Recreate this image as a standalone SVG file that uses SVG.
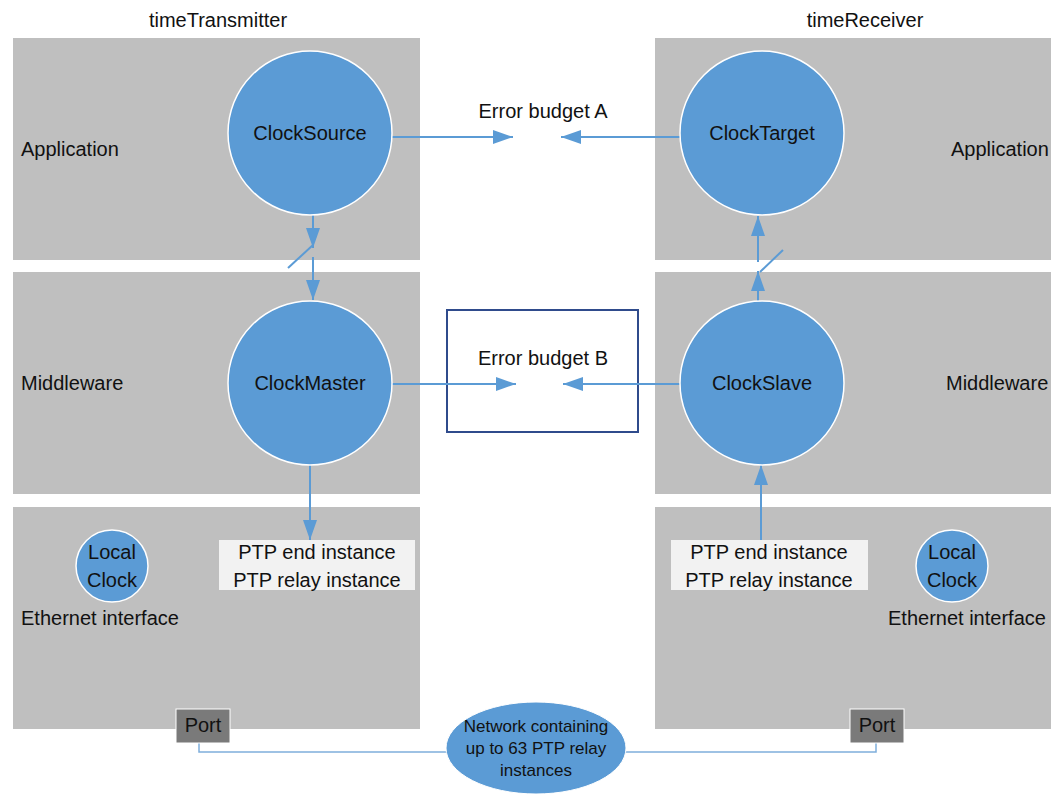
<svg xmlns="http://www.w3.org/2000/svg" width="1051" height="795" viewBox="0 0 1051 795">
  <defs>
    <style>
      .panel { fill: #BFBFBF; }
      .clock { fill: #5B9BD5; stroke: #FFFFFF; stroke-width: 1.5; }
      .lbl { font-family: "Liberation Sans", Arial, sans-serif; font-size: 20px; fill: #111111; }
      .mid { text-anchor: middle; }
      .small { font-size: 17px; }
      .wire { stroke: #5B9BD5; stroke-width: 2; fill: none; }
      .link { stroke: #7FAEDC; stroke-width: 1.5; fill: none; }
      .ptpbox { fill: #F2F2F2; }
      .port { fill: #7A7A7A; stroke: #FFFFFF; stroke-width: 1; }
    </style>
    <marker id="arrow" viewBox="0 0 20 14" refX="20" refY="7" markerWidth="20" markerHeight="14" markerUnits="userSpaceOnUse" orient="auto">
      <path d="M0,0 L20,7 L0,14 Z" fill="#5B9BD5"/>
    </marker>
  </defs>

  <rect width="1051" height="795" fill="#FFFFFF"/>

  <!-- titles -->
  <text class="lbl mid" x="218" y="27">timeTransmitter</text>
  <text class="lbl mid" x="865" y="27">timeReceiver</text>

  <!-- layer panels -->
  <g id="panels">
    <rect class="panel" x="13" y="38" width="407" height="222"/>
    <rect class="panel" x="13" y="272" width="407" height="222"/>
    <rect class="panel" x="13" y="507" width="407" height="222"/>
    <rect class="panel" x="655" y="38" width="396" height="222"/>
    <rect class="panel" x="655" y="272" width="396" height="222"/>
    <rect class="panel" x="655" y="507" width="396" height="222"/>
    <text class="lbl" x="21" y="156">Application</text>
    <text class="lbl" x="21" y="390">Middleware</text>
    <text class="lbl" x="21" y="625">Ethernet interface</text>
    <text class="lbl" x="951" y="156">Application</text>
    <text class="lbl" x="946" y="390">Middleware</text>
    <text class="lbl" x="888" y="625">Ethernet interface</text>
  </g>

  <!-- error budget B frame -->
  <g id="budgetB">
    <rect x="447" y="310" width="191" height="122" fill="none" stroke="#2F4B8C" stroke-width="2"/>
    <text class="lbl mid" x="543" y="365">Error budget B</text>
  </g>
  <g id="budgetA">
    <text class="lbl mid" x="543" y="118">Error budget A</text>
  </g>

  <!-- connectors -->
  <g id="connectors">
    <line class="wire" x1="313" y1="215" x2="313" y2="248" marker-end="url(#arrow)"/>
    <line class="wire" x1="288" y1="268" x2="313" y2="245"/>
    <line class="wire" x1="313" y1="257" x2="313" y2="300" marker-end="url(#arrow)"/>

    <line class="wire" x1="758" y1="262" x2="758" y2="216" marker-end="url(#arrow)"/>
    <line class="wire" x1="760" y1="272" x2="783" y2="250"/>
    <line class="wire" x1="758" y1="301" x2="758" y2="271" marker-end="url(#arrow)"/>

    <line class="wire" x1="392" y1="137" x2="513" y2="137" marker-end="url(#arrow)"/>
    <line class="wire" x1="680" y1="137" x2="561" y2="137" marker-end="url(#arrow)"/>
    <line class="wire" x1="392" y1="384" x2="516" y2="384" marker-end="url(#arrow)"/>
    <line class="wire" x1="680" y1="384" x2="563" y2="384" marker-end="url(#arrow)"/>

    <line class="wire" x1="310" y1="465" x2="310" y2="540" marker-end="url(#arrow)"/>
    <line class="wire" x1="761" y1="540" x2="761" y2="465" marker-end="url(#arrow)"/>

    <polyline class="link" points="199,743 199,752 447,752"/>
    <polyline class="link" points="626,752 876,752 876,743"/>
  </g>

  <!-- clock nodes -->
  <g id="clockSource">
    <circle class="clock" cx="310" cy="133" r="82"/>
    <text class="lbl mid" x="310" y="140">ClockSource</text>
  </g>
  <g id="clockTarget">
    <circle class="clock" cx="762" cy="133" r="82"/>
    <text class="lbl mid" x="762" y="140">ClockTarget</text>
  </g>
  <g id="clockMaster">
    <circle class="clock" cx="310" cy="383" r="82"/>
    <text class="lbl mid" x="310" y="390">ClockMaster</text>
  </g>
  <g id="clockSlave">
    <circle class="clock" cx="762" cy="383" r="82"/>
    <text class="lbl mid" x="762" y="390">ClockSlave</text>
  </g>

  <!-- PTP instances -->
  <g id="ptpLeft">
    <rect class="ptpbox" x="219" y="540" width="196" height="50"/>
    <text class="lbl mid" x="317" y="559">PTP end instance</text>
    <text class="lbl mid" x="317" y="587">PTP relay instance</text>
  </g>
  <g id="ptpRight">
    <rect class="ptpbox" x="671" y="540" width="197" height="50"/>
    <text class="lbl mid" x="769" y="559">PTP end instance</text>
    <text class="lbl mid" x="769" y="587">PTP relay instance</text>
  </g>

  <!-- local clocks -->
  <g id="localClockLeft">
    <circle class="clock" cx="112" cy="566" r="36"/>
    <text class="lbl mid" x="112" y="559">Local</text>
    <text class="lbl mid" x="112" y="587">Clock</text>
  </g>
  <g id="localClockRight">
    <circle class="clock" cx="952" cy="566" r="36"/>
    <text class="lbl mid" x="952" y="559">Local</text>
    <text class="lbl mid" x="952" y="587">Clock</text>
  </g>

  <!-- ports -->
  <g id="portLeft">
    <rect class="port" x="176" y="709" width="54" height="34"/>
    <text class="lbl mid" x="203" y="732">Port</text>
  </g>
  <g id="portRight">
    <rect class="port" x="850" y="709" width="54" height="34"/>
    <text class="lbl mid" x="877" y="732">Port</text>
  </g>

  <!-- relay network -->
  <g id="network">
    <ellipse cx="536" cy="748" rx="90" ry="46" fill="#5B9BD5" stroke="#FFFFFF" stroke-width="1"/>
    <text class="lbl mid small" x="536" y="732">Network containing</text>
    <text class="lbl mid small" x="536" y="754">up to 63 PTP relay</text>
    <text class="lbl mid small" x="536" y="776">instances</text>
  </g>
</svg>
